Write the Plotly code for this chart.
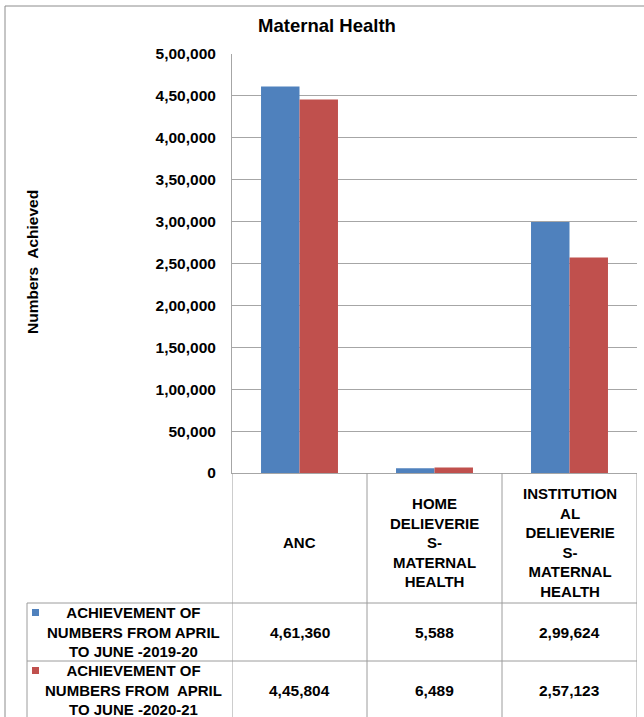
import plotly.graph_objects as go

# data
categories = ["ANC", "HOME DELIEVERIES-MATERNAL HEALTH", "INSTITUTIONAL DELIEVERIES-MATERNAL HEALTH"]
category_labels = [
    "ANC",
    "HOME<br>DELIEVERIE<br>S-<br>MATERNAL<br>HEALTH",
    "INSTITUTION<br>AL<br>DELIEVERIE<br>S-<br>MATERNAL<br>HEALTH",
]
series_names = [
    "ACHIEVEMENT OF NUMBERS FROM APRIL TO JUNE -2019-20",
    "ACHIEVEMENT OF NUMBERS FROM  APRIL TO JUNE -2020-21",
]
series_labels = [
    "ACHIEVEMENT OF<br>NUMBERS FROM APRIL<br>TO JUNE -2019-20",
    "ACHIEVEMENT OF<br>NUMBERS FROM  APRIL<br>TO JUNE -2020-21",
]
values_2019 = [461360, 5588, 299624]
values_2020 = [445804, 6489, 257123]
y_ticks = [0, 50000, 100000, 150000, 200000, 250000, 300000, 350000, 400000, 450000, 500000]

colors = ["#4F81BD", "#C0504D"]
FONT = "Liberation Sans, Arial, sans-serif"
GRID = "#A6A6A6"
TABLE_LINE = "#9C9C9C"

W, H = 644, 717
L, R, T, B = 232, 7, 54, 244


def indian(n):
    s = str(int(n))
    if len(s) <= 3:
        return s
    head, tail = s[:-3], s[-3:]
    parts = []
    while len(head) > 2:
        parts.insert(0, head[-2:])
        head = head[:-2]
    if head:
        parts.insert(0, head)
    return ",".join(parts) + "," + tail


def px_x(p):
    return (p - L) / (W - L - R)


def px_y(p):
    return (H - B - p) / (H - T - B)


fig = go.Figure()
for name, vals, col in zip(series_names, [values_2019, values_2020], colors):
    fig.add_trace(go.Bar(x=categories, y=vals, name=name,
                         marker=dict(color=col, line=dict(width=0))))

fig.update_layout(
    width=W, height=H,
    margin=dict(l=L, r=R, t=T, b=B),
    paper_bgcolor="white", plot_bgcolor="white",
    barmode="group", bargap=0.43, bargroupgap=0,
    showlegend=False,
    font=dict(family=FONT, color="black"),
    title=dict(text="Maternal Health", x=px_x(327), xref="paper", xanchor="center",
               y=1 - 26 / H, yanchor="middle",
               font=dict(size=18.5, weight="bold", family=FONT)),
)
fig.update_xaxes(range=[-0.5, 2.5], showticklabels=False, showgrid=False,
                 showline=True, linecolor=GRID, linewidth=1, zeroline=False, ticks="")
fig.update_yaxes(range=[0, 500000], tickvals=y_ticks, ticktext=[indian(v) for v in y_ticks],
                 tickfont=dict(size=15.5, weight="bold", family=FONT),
                 showgrid=True, gridcolor=GRID, gridwidth=1,
                 showline=True, linecolor=GRID, linewidth=1, zeroline=False,
                 ticks="outside", ticklen=0, ticklabelstandoff=12)

ann = []
# y axis title
ann.append(dict(text="Numbers  Achieved", xref="paper", yref="paper", x=px_x(32), y=px_y(262),
                xanchor="center", yanchor="middle",
                textangle=-90, showarrow=False, font=dict(size=15.5, weight="bold", family=FONT)))

# header row of the data table
for cat, lab in zip(categories, category_labels):
    ann.append(dict(text=lab, x=cat, xref="x", yref="paper", y=px_y(542), showarrow=False,
                    xanchor="center", yanchor="middle",
                    align="center", font=dict(size=15, weight="bold", family=FONT)))

# value rows
row_y = [632, 690]
for vals, lab, ry, col in zip([values_2019, values_2020], series_labels, row_y, colors):
    ann.append(dict(text=lab, xref="paper", yref="paper", x=px_x(133), y=px_y(ry),
                    xanchor="center", yanchor="middle",
                    showarrow=False, align="center",
                    font=dict(size=15, weight="bold", family=FONT)))
    for cat, v in zip(categories, vals):
        ann.append(dict(text=indian(v), x=cat, xref="x", yref="paper", y=px_y(ry),
                        xanchor="center", yanchor="middle",
                        showarrow=False, font=dict(size=15.5, weight="bold", family=FONT)))

shapes = []
line = dict(color=TABLE_LINE, width=1)
# vertical table lines at category boundaries
for xb in [-0.5, 0.5, 1.5, 2.5]:
    shapes.append(dict(type="line", xref="x", yref="paper", x0=xb, x1=xb,
                       y0=0, y1=px_y(H + 5), line=line))
# row separators
for ry in [603, 661]:
    shapes.append(dict(type="line", xref="paper", yref="paper", x0=px_x(27), x1=1,
                       y0=px_y(ry), y1=px_y(ry), line=line))
# left edge of legend column
shapes.append(dict(type="line", xref="paper", yref="paper", x0=px_x(27), x1=px_x(27),
                   y0=px_y(603), y1=px_y(H + 5), line=line))
# legend keys
for ry, col in zip([609, 667], colors):
    shapes.append(dict(type="rect", xref="paper", yref="paper",
                       x0=px_x(32), x1=px_x(39), y0=px_y(ry), y1=px_y(ry + 7),
                       fillcolor=col, line=dict(width=0)))
# outer chart frame
frame = dict(color="#8C8C8C", width=1)
shapes.append(dict(type="line", xref="paper", yref="paper", x0=px_x(5), x1=px_x(5),
                   y0=px_y(6), y1=px_y(H + 5), line=frame))
shapes.append(dict(type="line", xref="paper", yref="paper", x0=px_x(5), x1=px_x(W + 5),
                   y0=px_y(6), y1=px_y(6), line=frame))

fig.update_layout(annotations=ann, shapes=shapes)
fig.write_html("out.html", config={"displayModeBar": False},
               post_script="document.body.style.margin='0';")
